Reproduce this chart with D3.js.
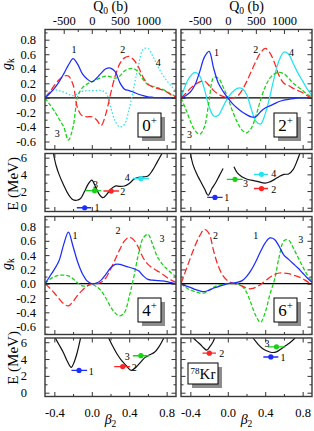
<!DOCTYPE html>
<html>
<head>
<meta charset="utf-8">
<script src="https://cdn.jsdelivr.net/npm/d3@7"></script>
<style>
  body { margin: 0; background: #fff; }
  svg text { font-family: 'Liberation Serif', 'DejaVu Serif', serif; fill: #000; }
</style>
</head>
<body>
<svg id="chart" width="314" height="431"></svg>
<script>
'use strict';

/* values */

var betaGrid = [-0.5, -0.45, -0.4, -0.35, -0.3, -0.25, -0.2, -0.15, -0.1, -0.05, 0, 0.05, 0.1, 0.15,
  0.2, 0.25, 0.3, 0.35, 0.4, 0.45, 0.5, 0.55, 0.6, 0.65, 0.7, 0.75, 0.8, 0.85, 0.9];

// collective wave functions g_k, one array per state, on betaGrid
var g0k1 = [0, 0.06, 0.13, 0.22, 0.33, 0.45, 0.54, 0.46, 0.33, 0.26, 0.22, 0.27, 0.34, 0.40, 0.41, 0.36, 0.21, 0.12, 0.10, 0.075, 0.05, 0.03, 0.015, 0.008, 0.004, 0.002, 0, 0, 0];
var g0k2 = [0, 0.08, 0.17, 0.25, 0.30, 0.30, 0.18, -0.15, -0.25, -0.26, -0.26, -0.30, -0.38, -0.22, 0.05, 0.30, 0.47, 0.55, 0.57, 0.52, 0.42, 0.28, 0.19, 0.15, 0.13, 0.11, 0.08, 0.04, 0.01];
var g0k3 = [0, -0.09, -0.18, -0.29, -0.40, -0.58, -0.40, 0.02, 0.14, 0.19, 0.22, 0.25, 0.28, 0.30, 0.29, 0.27, 0.30, 0.37, 0.40, 0.40, 0.35, 0.25, 0.18, 0.16, 0.14, 0.12, 0.09, 0.05, 0.02];
var g0k4 = [0, 0.08, 0.11, 0.10, 0.08, 0.05, 0.03, 0.06, 0.09, 0.10, 0.10, 0.10, 0.10, 0.07, -0.12, -0.32, -0.40, -0.36, -0.15, 0.15, 0.45, 0.67, 0.68, 0.58, 0.45, 0.33, 0.24, 0.16, 0.10];

var g2k1 = [0, 0.03, 0.08, 0.18, 0.36, 0.56, 0.64, 0.40, 0.20, 0.09, 0, -0.08, -0.14, -0.19, -0.23, -0.26, -0.26, -0.19, -0.14, -0.11, -0.08, -0.05, -0.03, -0.02, -0.01, 0, 0, 0, 0];
var g2k2 = [0, 0.06, 0.13, 0.18, 0.22, 0.23, 0.17, 0.10, 0.05, 0.02, 0, 0, 0.02, 0.10, 0.22, 0.36, 0.50, 0.62, 0.68, 0.62, 0.48, 0.30, 0.20, 0.17, 0.13, 0.10, 0.07, 0.03, 0];
var g2k3 = [0, -0.15, -0.32, -0.45, -0.50, -0.40, -0.04, 0.28, 0.27, 0.15, 0, -0.18, -0.33, -0.44, -0.48, -0.42, -0.25, -0.03, 0.15, 0.27, 0.33, 0.35, 0.33, 0.27, 0.20, 0.15, 0.10, 0.05, 0.01];
var g2k4 = [0, 0.18, 0.30, 0.35, 0.30, 0.12, -0.12, -0.25, -0.24, -0.12, 0, 0.08, 0.13, 0.13, 0.05, -0.15, -0.32, -0.36, -0.22, 0.02, 0.30, 0.52, 0.63, 0.60, 0.47, 0.34, 0.23, 0.12, 0.03];

var g4k1 = [0, 0.10, 0.20, 0.32, 0.55, 0.72, 0.52, 0.30, 0.14, 0.04, 0, 0.01, 0.05, 0.13, 0.22, 0.27, 0.27, 0.25, 0.23, 0.21, 0.18, 0.11, 0.06, 0.05, 0.045, 0.04, 0.03, 0.015, 0];
var g4k2 = [0, -0.06, -0.13, -0.21, -0.28, -0.31, -0.25, -0.16, -0.09, -0.03, 0, 0, 0.02, 0.08, 0.20, 0.34, 0.48, 0.60, 0.65, 0.61, 0.50, 0.36, 0.27, 0.22, 0.18, 0.14, 0.09, 0.05, 0.02];
var g4k3 = [0, 0.06, 0.10, 0.12, 0.12, 0.11, 0.07, 0.01, -0.03, -0.03, -0.01, -0.04, -0.10, -0.20, -0.32, -0.41, -0.45, -0.40, -0.18, 0.10, 0.42, 0.64, 0.69, 0.55, 0.38, 0.28, 0.21, 0.15, 0.10];

var g6k1 = [0, -0.03, -0.05, -0.08, -0.10, -0.11, -0.09, -0.06, -0.04, -0.02, 0, 0.01, 0.02, 0.04, 0.10, 0.19, 0.31, 0.45, 0.57, 0.64, 0.62, 0.52, 0.40, 0.34, 0.28, 0.22, 0.15, 0.08, 0.02];
var g6k2 = [0, 0.18, 0.36, 0.53, 0.67, 0.76, 0.70, 0.45, 0.24, 0.11, 0.04, 0.01, -0.01, -0.03, -0.06, -0.07, -0.05, -0.01, 0.04, 0.09, 0.13, 0.15, 0.15, 0.14, 0.12, 0.10, 0.07, 0.03, 0];
var g6k3 = [0, -0.05, -0.09, -0.11, -0.13, -0.13, -0.09, -0.05, -0.02, -0.01, 0, 0, 0, -0.03, -0.12, -0.28, -0.45, -0.54, -0.40, -0.15, 0.06, 0.38, 0.60, 0.61, 0.50, 0.37, 0.24, 0.12, 0.03];

// curve number tags  [k, beta, g]
var tags0 = [[1, -0.19, 0.66], [2, 0.33, 0.66], [3, -0.37, -0.49], [4, 0.71, 0.48]];
var tags2 = [[1, -0.12, 0.62], [2, 0.30, 0.66], [3, -0.41, -0.51], [4, 0.68, 0.63]];
var tags4 = [[1, -0.18, 0.68], [2, 0.28, 0.75], [3, 0.75, 0.63]];
var tags6 = [[2, -0.13, 0.68], [1, 0.30, 0.68], [3, 0.78, 0.62]];

// potential energy curves E(beta)
var pesA1Beta = [-0.41, -0.38, -0.35, -0.3, -0.25, -0.2, -0.16, -0.12, -0.08, -0.04, 0, 0.04, 0.08, 0.12, 0.16, 0.2, 0.25, 0.3, 0.35, 0.4, 0.45, 0.5, 0.55, 0.6, 0.65, 0.7, 0.75];
var pesA1E = [6.5, 5.0, 4.0, 2.7, 1.6, 0.95, 0.9, 1.1, 1.9, 2.8, 3.3, 2.5, 1.6, 1.2, 1.6, 2.2, 2.6, 2.55, 2.6, 2.9, 3.4, 3.65, 3.7, 3.8, 4.5, 5.5, 6.5];
var pesB1Beta = [-0.40, -0.37, -0.33, -0.297, -0.25, -0.21, -0.17, -0.13, -0.09, -0.05];
var pesB1E = [6.5, 5.1, 4.0, 3.3, 2.3, 1.5, 2.3, 3.0, 3.85, 4.7];
var pesB2Beta = [0.066, 0.1, 0.15, 0.2, 0.3, 0.4, 0.45, 0.5, 0.55, 0.6, 0.65, 0.7, 0.74, 0.77];
var pesB2E = [4.9, 4.2, 3.7, 3.45, 3.2, 2.95, 3.1, 3.4, 3.75, 4.0, 4.05, 4.6, 5.6, 6.5];
var pesC1Beta = [-0.39, -0.35, -0.3, -0.26, -0.22, -0.19, -0.16, -0.14, -0.12];
var pesC1E = [6.5, 5.7, 4.7, 3.7, 3.0, 3.6, 4.6, 5.5, 6.5];
var pesC2Beta = [0.18, 0.22, 0.27, 0.32, 0.37, 0.42, 0.47, 0.52, 0.57, 0.62, 0.67, 0.72, 0.77];
var pesC2E = [6.5, 5.6, 4.6, 3.8, 3.2, 2.65, 3.0, 3.6, 4.2, 4.5, 4.8, 5.5, 6.5];
var pesD1Beta = [-0.37, -0.33, -0.29, -0.26, -0.225, -0.19, -0.16, -0.14];
var pesD1E = [6.5, 6.1, 5.7, 5.35, 5.05, 5.5, 6.0, 6.5];
var pesD2Beta = [0.27, 0.32, 0.37, 0.42, 0.47, 0.52, 0.57, 0.62, 0.67, 0.72];
var pesD2E = [6.5, 5.8, 5.25, 4.95, 4.78, 4.85, 5.2, 5.6, 6.0, 6.5];

// levels: k, mean beta, energy, beta spread (lo, hi), tag position
var levA = { k: [1, 2, 3, 4], beta: [-0.076, 0.207, 0.03, 0.525], E: [0.0, 2.0, 2.05, 3.5],
  lo: [-0.16, 0.125, -0.065, 0.437], hi: [-0.005, 0.29, 0.1, 0.61],
  tagBeta: [0.055, 0.33, 0.04, 0.38], tagE: [0.0, 1.9, 2.8, 3.6] };
var levB = { k: [1, 2, 3, 4], beta: [-0.137, 0.36, 0.077, 0.36], E: [1.24, 2.3, 3.4, 4.0],
  lo: [-0.22, 0.28, -0.01, 0.28], hi: [-0.055, 0.43, 0.16, 0.43],
  tagBeta: [-0.01, 0.49, 0.19, 0.49], tagE: [1.2, 2.2, 2.9, 4.1] };
var levC = { k: [1, 2, 3], beta: [-0.136, 0.33, 0.525], E: [2.65, 3.1, 4.4],
  lo: [-0.217, 0.24, 0.44], hi: [-0.05, 0.41, 0.61],
  tagBeta: [-0.005, 0.455, 0.38], tagE: [2.55, 3.0, 4.3] };
var levD = { k: [1, 2, 3], beta: [0.46, -0.197, 0.52], E: [4.25, 4.7, 5.45],
  lo: [0.38, -0.27, 0.43], hi: [0.54, -0.126, 0.61],
  tagBeta: [0.59, -0.065, 0.42], tagE: [4.15, 4.6, 5.8] };

var q0Major = [-500, 0, 500, 1000];
var q0Minor = [-250, 250, 750, 1250];
var betaMajor = [-0.4, 0, 0.4, 0.8];
var betaMinor = [-0.2, 0.2, 0.6];
var gkMajor = [-0.6, -0.4, -0.2, 0, 0.2, 0.4, 0.6, 0.8];
var gkMinor = [-0.7, -0.5, -0.3, -0.1, 0.1, 0.3, 0.5, 0.7, 0.9];
var eMajor = [0, 2, 4, 6];
var eMinor = [1, 3, 5];

/* layout */

var svg = d3.select('#chart');
var colX = [[45, 176], [181, 312]];
var rowY = [
  { gk: [29.5, 149.5], e: [153.5, 211.5] },
  { gk: [216.5, 334.5], e: [338, 396.5] }
];
var colour = { 1: '#1c2cff', 2: '#ff2424', 3: '#14d214', 4: '#22e4f0' };
var dash = { 1: null, 2: '7,3', 3: '4,2', 4: '1.5,2' };

// plain hyphen for negative numbers, as in the figure
function hyphen(f) {
  return function(d) { return f(d).replace('\u2212', '-'); };
}
var fmt1 = hyphen(d3.format('.1f'));
var fmtInt = hyphen(d3.format('d'));

svg.append('rect').attr('width', 314).attr('height', 431).attr('fill', '#fff');

function tickAxis(g, axisFn, scale, values, size, pos, format, pad) {
  var ax = axisFn(scale).tickValues(values).tickSizeInner(-size).tickSizeOuter(0)
    .tickPadding(pad || 3).tickFormat(format || '');
  var sel = g.append('g').attr('transform', pos).call(ax);
  sel.select('.domain').remove();
  sel.selectAll('line').attr('stroke', '#333').attr('stroke-width', 1);
  sel.selectAll('text').attr('font-size', 12.5).attr('font-family', null).attr('fill', '#000');
  return sel;
}

// frame + ticks on all four sides; labels where asked
function panel(x, y, opts) {
  var g = svg.append('g');
  var x0 = x.range()[0], x1 = x.range()[1], y0 = y.range()[1], y1 = y.range()[0];
  var yMaj = opts.yMajor, yMin = opts.yMinor;

  tickAxis(g, d3.axisBottom, x, betaMajor, 4.5, 'translate(0,' + y1 + ')', opts.xLabels ? fmt1 : '', 12);
  tickAxis(g, d3.axisBottom, x, betaMinor, 2.5, 'translate(0,' + y1 + ')');
  if (opts.q0) {
    tickAxis(g, d3.axisTop, opts.q0, q0Major, 4.5, 'translate(0,' + y0 + ')', fmtInt, 4.5);
    tickAxis(g, d3.axisTop, opts.q0, q0Minor, 2.5, 'translate(0,' + y0 + ')');
  } else {
    tickAxis(g, d3.axisTop, x, betaMajor, 4.5, 'translate(0,' + y0 + ')');
    tickAxis(g, d3.axisTop, x, betaMinor, 2.5, 'translate(0,' + y0 + ')');
  }
  tickAxis(g, d3.axisLeft, y, yMaj, 4.5, 'translate(' + x0 + ',0)', opts.yLabels ? opts.yFormat : '', opts.yPad);
  tickAxis(g, d3.axisLeft, y, yMin, 2.5, 'translate(' + x0 + ',0)');
  tickAxis(g, d3.axisRight, y, yMaj, 4.5, 'translate(' + x1 + ',0)');
  tickAxis(g, d3.axisRight, y, yMin, 2.5, 'translate(' + x1 + ',0)');

  g.append('rect').attr('x', x0).attr('y', y0).attr('width', x1 - x0).attr('height', y1 - y0)
    .attr('fill', 'none').attr('stroke', '#383838').attr('stroke-width', 1.4);
  return g;
}

function clipFor(id, x, y) {
  svg.append('clipPath').attr('id', id).append('rect')
    .attr('x', x.range()[0]).attr('y', y.range()[1])
    .attr('width', x.range()[1] - x.range()[0]).attr('height', y.range()[0] - y.range()[1]);
  return 'url(#' + id + ')';
}

function stateBox(x1, y1, w, h, build) {
  var left = x1 - w, top = y1 - h;
  svg.append('rect').attr('x', left + 4).attr('y', top + 4).attr('width', w).attr('height', h)
    .attr('fill', '#8c8c8c');
  svg.append('rect').attr('x', left).attr('y', top).attr('width', w).attr('height', h)
    .attr('fill', '#fff').attr('stroke', '#000').attr('stroke-width', 1);
  build(svg.append('text').attr('x', left + w / 2).attr('y', top + h / 2 + 6).attr('text-anchor', 'middle'));
}

/* g_k panels */

var gkPanels = [
  { spin: '0', col: 0, row: 0, lines: [[1, g0k1], [2, g0k2], [3, g0k3], [4, g0k4]], tags: tags0, solidCyan: false },
  { spin: '2', col: 1, row: 0, lines: [[1, g2k1], [2, g2k2], [3, g2k3], [4, g2k4]], tags: tags2, solidCyan: true },
  { spin: '4', col: 0, row: 1, lines: [[1, g4k1], [2, g4k2], [3, g4k3]], tags: tags4 },
  { spin: '6', col: 1, row: 1, lines: [[1, g6k1], [2, g6k2], [3, g6k3]], tags: tags6 }
];

gkPanels.forEach(function(p, i) {
  var x = d3.scaleLinear().domain([-0.5, 0.9]).range(colX[p.col]);
  var y = d3.scaleLinear().domain([-0.71, 0.94]).range([rowY[p.row].gk[1], rowY[p.row].gk[0]]);
  var q0 = p.row === 0 ? d3.scaleLinear().domain([-833.3, 1500]).range(colX[p.col]) : null;
  var clip = clipFor('gkclip' + i, x, y);

  var line = d3.line()
    .x(function(d, j) { return x(betaGrid[j]); })
    .y(function(d) { return y(d); })
    .curve(d3.curveCatmullRom.alpha(0.5));

  var lg = svg.append('g').attr('clip-path', clip);
  lg.append('line').attr('x1', x.range()[0]).attr('x2', x.range()[1])
    .attr('y1', y(0)).attr('y2', y(0)).attr('stroke', '#000').attr('stroke-width', 1.2);

  // draw order: cyan, green, red, blue on top
  p.lines.slice().reverse().forEach(function(l) {
    var k = l[0];
    lg.append('path').datum(l[1])
      .attr('d', line)
      .attr('fill', 'none')
      .attr('stroke', colour[k])
      .attr('stroke-width', 1.25)
      .attr('stroke-dasharray', (k === 4 && p.solidCyan) ? null : dash[k]);
  });

  svg.append('g').selectAll('text').data(p.tags).enter().append('text')
    .attr('x', function(d) { return x(d[1]); })
    .attr('y', function(d) { return y(d[2]); })
    .attr('dy', '0.35em')
    .attr('text-anchor', 'middle')
    .attr('font-size', 10)
    .attr('fill', '#222')
    .text(function(d) { return d[0]; });

  panel(x, y, {
    yMajor: gkMajor, yMinor: gkMinor, yLabels: p.col === 0, yFormat: fmt1, yPad: 9, q0: q0
  });

  stateBox(x.range()[1] - 15, y.range()[0] - 12.5, 23, 24, function(t) {
    t.attr('font-size', 17);
    t.append('tspan').text(p.spin);
    t.append('tspan').attr('font-size', 11).attr('dy', -7).text('+');
  });
});

/* energy panels */

var ePanels = [
  { col: 0, row: 0, pes: [[pesA1Beta, pesA1E]], lev: levA },
  { col: 1, row: 0, pes: [[pesB1Beta, pesB1E], [pesB2Beta, pesB2E]], lev: levB },
  { col: 0, row: 1, pes: [[pesC1Beta, pesC1E], [pesC2Beta, pesC2E]], lev: levC },
  { col: 1, row: 1, pes: [[pesD1Beta, pesD1E], [pesD2Beta, pesD2E]], lev: levD }
];

ePanels.forEach(function(p, i) {
  var x = d3.scaleLinear().domain([-0.5, 0.9]).range(colX[p.col]);
  var y = d3.scaleLinear().domain([-0.45, 6.5]).range([rowY[p.row].e[1], rowY[p.row].e[0]]);
  var clip = clipFor('eclip' + i, x, y);
  var lg = svg.append('g').attr('clip-path', clip);

  p.pes.forEach(function(c) {
    var line = d3.line()
      .x(function(d, j) { return x(c[0][j]); })
      .y(function(d) { return y(d); })
      .curve(d3.curveCatmullRom.alpha(0.5));
    lg.append('path').datum(c[1]).attr('d', line)
      .attr('fill', 'none').attr('stroke', '#111').attr('stroke-width', 1.2);
  });

  var lev = p.lev;
  var idx = d3.range(lev.k.length);
  lg.selectAll('line.bar').data(idx).enter().append('line')
    .attr('class', 'bar')
    .attr('x1', function(j) { return x(lev.lo[j]); })
    .attr('x2', function(j) { return x(lev.hi[j]); })
    .attr('y1', function(j) { return y(lev.E[j]); })
    .attr('y2', function(j) { return y(lev.E[j]); })
    .attr('stroke', function(j) { return colour[lev.k[j]]; })
    .attr('stroke-width', 1.4);
  lg.selectAll('circle').data(idx).enter().append('circle')
    .attr('cx', function(j) { return x(lev.beta[j]); })
    .attr('cy', function(j) { return y(lev.E[j]); })
    .attr('r', 2.6)
    .attr('fill', function(j) { return colour[lev.k[j]]; });
  svg.append('g').selectAll('text').data(idx).enter().append('text')
    .attr('x', function(j) { return x(lev.tagBeta[j]); })
    .attr('y', function(j) { return y(lev.tagE[j]); })
    .attr('dy', '0.35em')
    .attr('text-anchor', 'middle')
    .attr('font-size', 10)
    .attr('fill', '#222')
    .text(function(j) { return lev.k[j]; });

  panel(x, y, {
    yMajor: eMajor, yMinor: eMinor, yLabels: p.col === 0, yFormat: fmtInt, yPad: 18,
    xLabels: p.row === 1
  });
});

// nucleus box in the last energy panel
stateBox(colX[1][0] + 37, rowY[1].e[1] - 12.5, 30, 21, function(t) {
  t.attr('font-size', 15).attr('y', rowY[1].e[1] - 12.5 - 10.5 + 5.5);
  t.append('tspan').attr('font-size', 9).attr('dy', -5).text('78');
  t.append('tspan').attr('dy', 5).text('Kr');
});

/* axis titles */

[0, 1].forEach(function(c) {
  var cx = (colX[c][0] + colX[c][1]) / 2;
  var q = svg.append('text').attr('x', cx).attr('y', 10.5).attr('text-anchor', 'middle').attr('font-size', 14);
  q.append('tspan').text('Q');
  q.append('tspan').attr('font-size', 9.5).attr('dy', 3).text('0');
  q.append('tspan').attr('dy', -3).text(' (b)');

  var b = svg.append('text').attr('x', cx).attr('y', 424).attr('text-anchor', 'middle').attr('font-size', 14);
  b.append('tspan').attr('font-style', 'italic').text('β');
  b.append('tspan').attr('font-size', 9.5).attr('dy', 2.5).text('2');
});

[64, 264].forEach(function(cy) {
  var t = svg.append('text').attr('transform', 'translate(11,' + cy + ') rotate(-90)')
    .attr('text-anchor', 'middle').attr('font-size', 14);
  t.append('tspan').attr('font-style', 'italic').text('g');
  t.append('tspan').attr('font-size', 9.5).attr('dy', 3).text('k');
});

[184, 358].forEach(function(cy) {
  svg.append('text').attr('transform', 'translate(18,' + cy + ') rotate(-90)')
    .attr('text-anchor', 'middle').attr('font-size', 15).text('E (MeV)');
});
</script>
</body>
</html>
